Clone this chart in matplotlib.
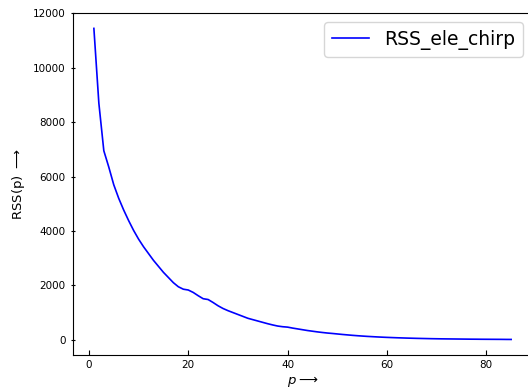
import numpy as np
import matplotlib
matplotlib.use("Agg")
import matplotlib.pyplot as plt

# RSS(p) values, p = 1..85
p_vals = np.arange(1, 86)
rss_vals = [
    11450, 8700, 6950, 6350, 5700, 5200, 4770, 4380, 4020, 3700,
    3420, 3170, 2920, 2700, 2480, 2290, 2100, 1950, 1860, 1830,
    1740, 1620, 1510, 1480, 1370, 1250, 1150, 1070, 1000, 930,
    860, 790, 740, 690, 640, 590, 545, 505, 480, 465,
    430, 400, 370, 340, 315, 290, 268, 248, 232, 214,
    196, 180, 164, 150, 137, 125, 115, 105, 96, 88,
    81, 74, 68, 62, 57, 52, 48, 44, 40, 37,
    34, 32, 30, 28, 26, 24, 22, 21, 19, 18,
    17, 16, 15, 13, 12,
]
series_label = "RSS_ele_chirp"

fig = plt.figure(figsize=(5.28, 3.89), dpi=100)
ax = fig.add_axes([0.1383, 0.0874, 0.8693, 0.8796])

ax.plot(p_vals, rss_vals, color="blue", linewidth=1.2, label=series_label)

ax.set_xticks([0, 20, 40, 60, 80])
ax.set_yticks([0, 2000, 4000, 6000, 8000, 10000, 12000])
ax.tick_params(axis="x", direction="in", labelsize=7.5)
ax.tick_params(axis="y", direction="inout", labelsize=7.5)

ax.set_xlabel(r"$p\longrightarrow$", fontsize=9.5, labelpad=3)
ax.set_ylabel(r"RSS(p) $\longrightarrow$", fontsize=9.5)

ax.legend(loc="upper right", fontsize=13.5)

fig.savefig("out.png", dpi=100)
